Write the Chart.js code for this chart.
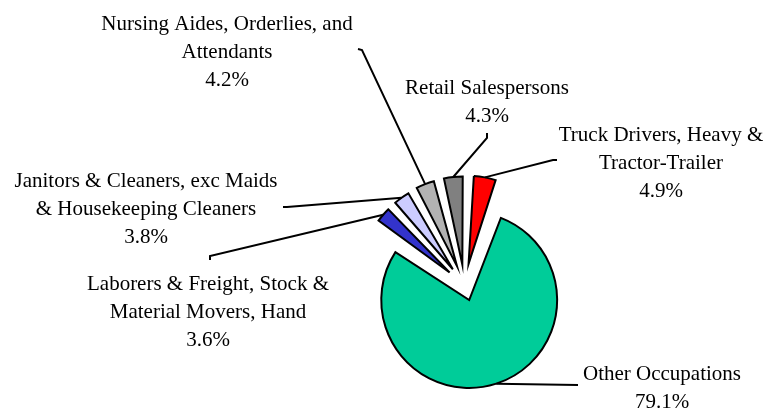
<!DOCTYPE html>
<html>
<head>
<meta charset="utf-8">
<script src="https://cdn.jsdelivr.net/npm/chart.js@4/dist/chart.umd.min.js"></script>
<style>
  html, body { margin: 0; padding: 0; background: #ffffff; }
  #wrap { width: 767px; height: 409px; }
</style>
</head>
<body>
<div id="wrap"><canvas id="chartPie" width="767" height="409"></canvas></div>
<script>
"use strict";

/* datos: participación por ocupación (%) */
var categories = [
  'Other Occupations',
  'Laborers & Freight, Stock & Material Movers, Hand',
  'Janitors & Cleaners, exc Maids & Housekeeping Cleaners',
  'Nursing Aides, Orderlies, and Attendants',
  'Retail Salespersons',
  'Truck Drivers, Heavy & Tractor-Trailer'
];
var shares = [79.1, 3.6, 3.8, 4.2, 4.3, 4.9];
var labelLines = [
  ['Other Occupations'],
  ['Laborers & Freight, Stock &', 'Material Movers, Hand'],
  ['Janitors & Cleaners, exc Maids', '& Housekeeping Cleaners'],
  ['Nursing Aides, Orderlies, and', 'Attendants'],
  ['Retail Salespersons'],
  ['Truck Drivers, Heavy &', 'Tractor-Trailer']
];

/* estilo */
var sliceColors = ['#00CC99', '#3333CC', '#CCCCFF', '#B2B2B2', '#808080', '#FF0000'];
var sliceOffsets = [61, 79, 80, 83, 84, 88];

/* ubicación de rótulos: centro x, primera línea base y, puntos del conector */
var labelBoxes = [
  { x: 662, y: 380, lead: [[578, 385]] },
  { x: 208, y: 290, lead: [[210, 256], [210, 260]] },
  { x: 146, y: 187, lead: [[287, 207], [283, 207]] },
  { x: 227, y: 30,  lead: [[362, 50], [358, 49]] },
  { x: 487, y: 94,  lead: [[487, 138], [487, 133]] },
  { x: 661, y: 141, lead: [[553, 160], [557, 160]] }
];
var LINE_H = 28;

var sliceLabels = {
  id: 'sliceLabels',
  afterDatasetsDraw: function (chart) {
    var ctx = chart.ctx;
    var meta = chart.getDatasetMeta(0);
    ctx.save();
    meta.data.forEach(function (arc, i) {
      var p = arc.getProps(['x', 'y', 'startAngle', 'endAngle', 'outerRadius'], true);
      var mid = (p.startAngle + p.endAngle) / 2;
      var off = (arc.options.offset || 0) / 4;
      var fix = 1 - Math.sin(Math.min(Math.PI, p.endAngle - p.startAngle));
      var r = p.outerRadius + off * fix;
      var ax = p.x + Math.cos(mid) * (off + r);
      var ay = p.y + Math.sin(mid) * (off + r);
      var box = labelBoxes[i];

      ctx.strokeStyle = '#000';
      ctx.lineWidth = 2;
      ctx.lineJoin = 'miter';
      ctx.beginPath();
      ctx.moveTo(ax, ay);
      box.lead.forEach(function (pt) { ctx.lineTo(pt[0], pt[1]); });
      ctx.stroke();

      ctx.fillStyle = '#000';
      ctx.font = '21px "Liberation Serif", "DejaVu Serif", serif';
      ctx.textAlign = 'center';
      ctx.textBaseline = 'alphabetic';
      var lines = labelLines[i].concat([shares[i].toFixed(1) + '%']);
      lines.forEach(function (t, k) {
        ctx.fillText(t, box.x, box.y + k * LINE_H);
      });
    });
    ctx.restore();
  }
};

new Chart(document.getElementById('chartPie'), {
  type: 'pie',
  data: {
    labels: categories,
    datasets: [{
      data: shares,
      backgroundColor: sliceColors,
      borderColor: '#000000',
      borderWidth: 2,
      borderJoinStyle: 'miter',
      offset: sliceOffsets
    }]
  },
  options: {
    responsive: false,
    animation: false,
    rotation: 19.5,
    radius: 72.7,
    layout: { padding: { left: 200, right: 38, top: 180, bottom: 18 } },
    plugins: {
      legend: { display: false },
      tooltip: { enabled: false },
      title: { display: false }
    }
  },
  plugins: [sliceLabels]
});
</script>
</body>
</html>
